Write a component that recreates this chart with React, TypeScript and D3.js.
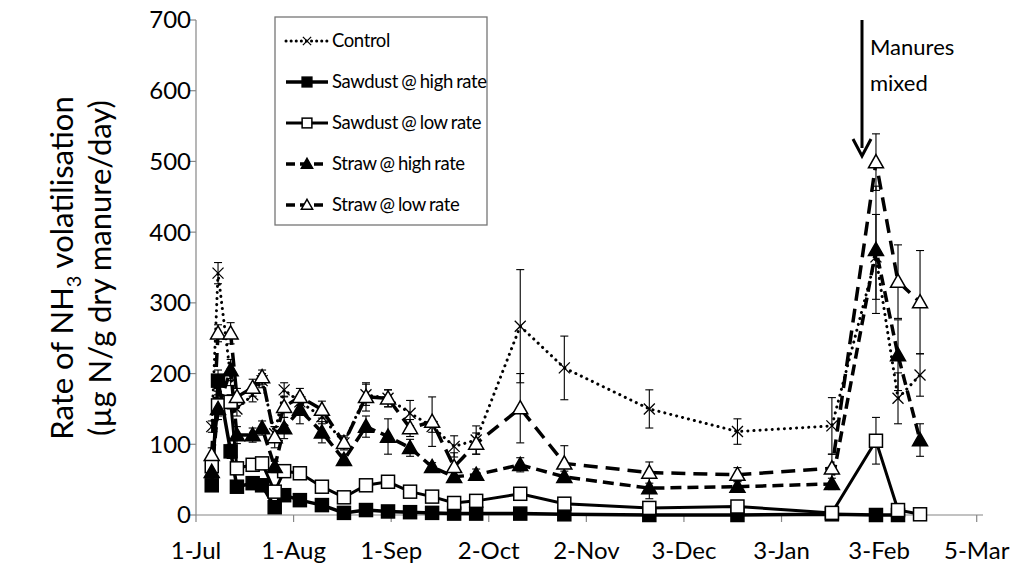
import React from 'react';
import * as d3 from 'd3';

// sampling dates (2011/12 season)
const sampleDates = [
  '2011-07-06', '2011-07-08', '2011-07-12', '2011-07-14', '2011-07-19', '2011-07-22',
  '2011-07-26', '2011-07-29', '2011-08-03', '2011-08-10', '2011-08-17', '2011-08-24',
  '2011-08-31', '2011-09-07', '2011-09-14', '2011-09-21', '2011-09-28', '2011-10-12',
  '2011-10-26', '2011-11-22', '2011-12-20', '2012-01-19', '2012-02-02', '2012-02-09',
  '2012-02-16',
];

const controlValues = [125, 342, 195, 150, 170, 190, 115, 177, 160, 139, 102, 170, 165, 144, 125, 97, 106, 267, 208, 150, 118, 126, 365, 165, 198];
const controlErrors = [8, 15, 12, 10, 10, 10, 10, 10, 10, 10, 8, 15, 12, 18, 8, 15, 20, 80, 45, 27, 18, 40, 60, 36, 30];

const sawdustHighValues = [42, 190, 90, 40, 45, 42, 11, 28, 21, 14, 3, 7, 5, 4, 3, 2, 2, 2, 1, 0, 0, 1, 0, 0, null];
const sawdustHighErrors = [4, 15, 10, 8, 4, 4, 3, 3, 3, 3, 2, 2, 2, 2, 2, 2, 2, 2, 2, 2, 2, 2, 2, 2, null];

const sawdustLowValues = [69, 155, 160, 66, 71, 73, 33, 62, 59, 40, 25, 42, 47, 33, 26, 17, 20, 30, 16, 10, 12, 3, 105, 7, 1];
const sawdustLowErrors = [8, 15, 10, 5, 5, 5, 5, 8, 4, 3, 3, 3, 3, 3, 3, 3, 3, 3, 3, 3, 3, 3, 33, 3, 2];

const strawHighValues = [61, 150, 205, 113, 113, 123, 68, 123, 149, 117, 78, 125, 111, 95, 68, 54, 57, 71, 54, 38, 40, 44, 375, 226, 106];
const strawHighErrors = [8, 15, 15, 12, 10, 10, 8, 15, 20, 15, 8, 15, 25, 12, 6, 8, 8, 10, 8, 15, 8, 8, 90, 50, 23];

const strawLowValues = [85, 257, 257, 167, 180, 195, 110, 153, 167, 149, 102, 167, 165, 123, 132, 68, 101, 151, 73, 60, 57, 66, 499, 330, 301];
const strawLowErrors = [10, 12, 15, 12, 12, 10, 15, 15, 12, 12, 10, 20, 12, 12, 35, 20, 15, 49, 25, 15, 10, 20, 40, 52, 73];

const tickDates = ['2011-07-01', '2011-08-01', '2011-09-01', '2011-10-02', '2011-11-02', '2011-12-03', '2012-01-03', '2012-02-03', '2012-03-05'];
const tickLabels = ['1-Jul', '1-Aug', '1-Sep', '2-Oct', '2-Nov', '3-Dec', '3-Jan', '3-Feb', '5-Mar'];
const yTicks = [0, 100, 200, 300, 400, 500, 600, 700];

const seriesNames = ['Control', 'Sawdust @ high rate', 'Sawdust @ low rate', 'Straw @ high rate', 'Straw @ low rate'];

type Marker = 'cross' | 'squareFilled' | 'squareOpen' | 'triFilled' | 'triOpen';

const series = [
  { name: seriesNames[0], values: controlValues, errors: controlErrors, marker: 'cross' as Marker, dash: '0.1 6', width: 3 },
  { name: seriesNames[1], values: sawdustHighValues, errors: sawdustHighErrors, marker: 'squareFilled' as Marker, dash: null, width: 3.5 },
  { name: seriesNames[2], values: sawdustLowValues, errors: sawdustLowErrors, marker: 'squareOpen' as Marker, dash: null, width: 3 },
  { name: seriesNames[3], values: strawHighValues, errors: strawHighErrors, marker: 'triFilled' as Marker, dash: '11 6', width: 3.5 },
  { name: seriesNames[4], values: strawLowValues, errors: strawLowErrors, marker: 'triOpen' as Marker, dash: '14 8', width: 3.5 },
];

const font = 'Lato, "Open Sans", sans-serif';

function MarkerShape({ type, x, y, s = 1 }: { type: Marker; x: number; y: number; s?: number }) {
  const h = 6.5 * s;
  if (type === 'cross') {
    const c = 5.5 * s;
    return (
      <path d={`M${x - c},${y - c}L${x + c},${y + c}M${x - c},${y + c}L${x + c},${y - c}`}
        stroke="#000" strokeWidth={1.3} fill="none" />
    );
  }
  if (type === 'squareFilled' || type === 'squareOpen') {
    const filled = type === 'squareFilled';
    return (
      <rect x={x - h} y={y - h} width={2 * h} height={2 * h}
        fill={filled ? '#000' : '#fff'} stroke="#000" strokeWidth={1.5} />
    );
  }
  const filled = type === 'triFilled';
  const t = 7.5 * s;
  return (
    <path d={`M${x},${y - t}L${x + t},${y + t * 0.75}L${x - t},${y + t * 0.75}Z`}
      fill={filled ? '#000' : '#fff'} stroke="#000" strokeWidth={1.5} strokeLinejoin="miter" />
  );
}

export default function App() {
  const width = 1018;
  const height = 578;
  const x0 = 196;
  const x1 = 983;
  const yBottom = 515;
  const yTop = 20;

  const parse = d3.timeParse('%Y-%m-%d');
  const dates = sampleDates.map(d => parse(d) as Date);

  const xScale = d3.scaleTime()
    .domain([parse('2011-07-01') as Date, parse('2012-03-07') as Date])
    .range([x0, x1]);
  const yScale = d3.scaleLinear().domain([0, 700]).range([yBottom, yTop]);

  const axisColor = '#868686';

  return (
    <svg width={width} height={height} style={{ position: 'absolute', left: 0, top: 0, background: '#fff' }}>
      {/* y axis */}
      <line x1={x0} x2={x0} y1={yTop} y2={yBottom} stroke={axisColor} strokeWidth={1.2} />
      {yTicks.map(t => (
        <g key={t}>
          <line x1={x0 - 6} x2={x0} y1={yScale(t)} y2={yScale(t)} stroke={axisColor} strokeWidth={1.2} />
          <text x={x0 - 5} y={yScale(t)} dy="0.35em" textAnchor="end" fontFamily={font} fontSize={24} fill="#000">{t}</text>
        </g>
      ))}
      {/* x axis */}
      <line x1={x0} x2={x1} y1={yBottom} y2={yBottom} stroke={axisColor} strokeWidth={1.2} />
      {tickDates.map((d, i) => {
        const tx = xScale(parse(d) as Date);
        return (
          <g key={d}>
            <line x1={tx} x2={tx} y1={yBottom} y2={yBottom + 7} stroke={axisColor} strokeWidth={1.2} />
            <text x={tx} y={551} dy="0.35em" textAnchor="middle" fontFamily={font} fontSize={24} fill="#000">{tickLabels[i]}</text>
          </g>
        );
      })}

      {/* axis title */}
      <g transform="translate(73,268) rotate(-90)">
        <text textAnchor="middle" fontFamily={font} fontSize={31} fill="#000">
          Rate of NH<tspan fontSize={20} dy={8}>3</tspan><tspan dy={-8}> volatilisation</tspan>
        </text>
        <text y={38} textAnchor="middle" fontFamily={font} fontSize={31} fill="#000">(µg N/g dry manure/day)</text>
      </g>

      {/* error bars */}
      {series.map(s => (
        <g key={s.name + '-err'}>
          {s.values.map((v, i) => {
            if (v == null || s.errors[i] == null) return null;
            const e = s.errors[i] as number;
            const cx = xScale(dates[i]);
            const yt = yScale(v + e);
            const yb = yScale(Math.max(0, v - e));
            return (
              <g key={i} stroke="#000" strokeWidth={1.1}>
                <line x1={cx} x2={cx} y1={yt} y2={yb} />
                <line x1={cx - 4} x2={cx + 4} y1={yt} y2={yt} />
                <line x1={cx - 4} x2={cx + 4} y1={yb} y2={yb} />
              </g>
            );
          })}
        </g>
      ))}

      {/* lines */}
      {series.map(s => {
        const line = d3.line<number | null>()
          .defined(v => v != null)
          .x((_, i) => xScale(dates[i]))
          .y(v => yScale(v as number));
        return (
          <path key={s.name + '-line'} d={line(s.values) || ''} fill="none" stroke="#000"
            strokeWidth={s.width} strokeDasharray={s.dash || undefined}
            strokeLinecap={s.dash === '0.1 6' ? 'round' : 'butt'} />
        );
      })}

      {/* markers */}
      {series.map(s => (
        <g key={s.name + '-mk'}>
          {s.values.map((v, i) => v == null ? null : (
            <MarkerShape key={i} type={s.marker} x={xScale(dates[i])} y={yScale(v)} />
          ))}
        </g>
      ))}

      {/* legend */}
      <rect x={275} y={17} width={212} height={208} fill="#fff" stroke="#767676" strokeWidth={1.3} />
      {series.map((s, i) => {
        const ly = 41 + i * 41;
        return (
          <g key={s.name + '-lg'}>
            <line x1={286} x2={328} y1={ly} y2={ly} stroke="#000" strokeWidth={s.width}
              strokeDasharray={s.dash === '0.1 6' ? '0.1 5' : s.dash ? '9 5' : undefined}
              strokeLinecap={s.dash === '0.1 6' ? 'round' : 'butt'} />
            <MarkerShape type={s.marker} x={307} y={ly} s={0.75} />
            <text x={332} y={ly} dy="0.35em" fontFamily={font} fontSize={18.5} letterSpacing={-0.4} wordSpacing={-1} fill="#000">{s.name}</text>
          </g>
        );
      })}

      {/* annotation */}
      <text x={870} y={47} dy="0.35em" fontFamily={font} fontSize={22} fill="#000">Manures</text>
      <text x={870} y={83} dy="0.35em" fontFamily={font} fontSize={22} fill="#000">mixed</text>
      <line x1={862} x2={862} y1={20} y2={148} stroke="#000" strokeWidth={3} />
      <path d="M853,139L862,156L871,139" fill="none" stroke="#000" strokeWidth={3} />
    </svg>
  );
}
